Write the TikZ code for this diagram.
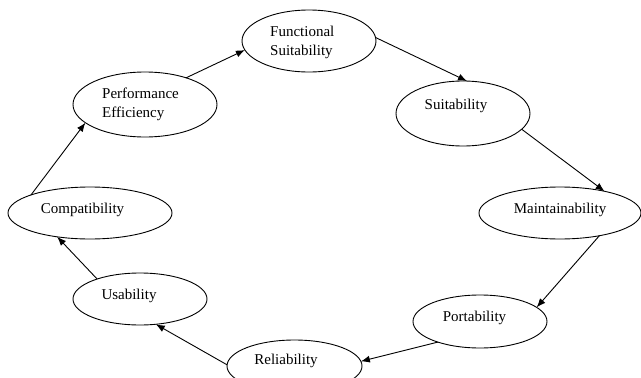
\documentclass[tikz,border=0pt]{standalone}
\usepackage{fontspec}
\setmainfont{Liberation Serif}
\usetikzlibrary{shapes.geometric,arrows.meta}
\begin{document}
\begin{tikzpicture}[x=1pt,y=-1pt,
  oval/.style={ellipse,draw,line width=0.9pt,inner sep=0pt,outer sep=0pt},
  lbl/.style={font=\fontsize{15}{19}\selectfont,inner sep=0pt,align=left},
  conn/.style={line width=0.9pt,-{Latex[length=9pt,width=7pt]}}]
\useasboundingbox (0,0) rectangle (641,378);
\node[oval,minimum width=134pt,minimum height=62pt] (fs) at (309,41) {};
\node[oval,minimum width=134pt,minimum height=65pt] (su) at (463,113.5) {};
\node[oval,minimum width=162pt,minimum height=52pt] (ma) at (560,213) {};
\node[oval,minimum width=134pt,minimum height=53pt] (po) at (480,321.5) {};
\node[oval,minimum width=135pt,minimum height=52pt] (re) at (294.5,366) {};
\node[oval,minimum width=134pt,minimum height=52pt] (us) at (140,299) {};
\node[oval,minimum width=164pt,minimum height=52pt] (co) at (90,213) {};
\node[oval,minimum width=144pt,minimum height=65pt] (pe) at (145,104.5) {};
\node[lbl,anchor=west] (tfs) at (270,42.5) {Functional\\Suitability};
\node[lbl] (tsu) at (456,106) {Suitability};
\node[lbl] (tma) at (560,210) {Maintainability};
\node[lbl] (tpo) at (474.5,318) {Portability};
\node[lbl] (tre) at (286,361) {Reliability};
\node[lbl] (tus) at (129,296) {Usability};
\node[lbl] (tco) at (82.5,210) {Compatibility};
\node[lbl,anchor=west] (tpe) at (102,104) {Performance\\Efficiency};
\draw[conn] (pe.33) -- (fs.188);
\draw[conn] (fs.3) -- (su.83);
\draw[conn] (su.-15) -- (ma.26);
\draw[conn] (ma.-30) -- (po.14);
\draw[conn] (po.206) -- (re.4);
\draw[conn] (re.179) -- (us.-58);
\draw[conn] (us.155) -- (co.216);
\draw[conn] (co.163) -- (pe.197);
\end{tikzpicture}
\end{document}
